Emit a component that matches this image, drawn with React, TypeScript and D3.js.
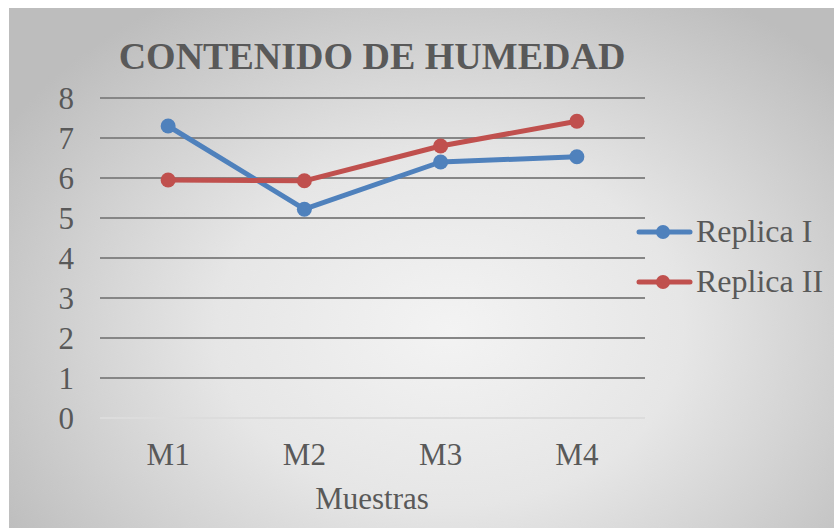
import { useEffect, useRef } from 'react';
import * as d3 from 'd3';

const WIDTH = 834;
const HEIGHT = 529;

const categories = ['M1', 'M2', 'M3', 'M4'];
const replicaI = [7.3, 5.22, 6.4, 6.53];
const replicaII = [5.95, 5.93, 6.8, 7.42];
const seriesNames = ['Replica I', 'Replica II'];
const seriesColors = ['#4F81BD', '#C0504D'];
const yTicks = [0, 1, 2, 3, 4, 5, 6, 7, 8];

const TEXT_COLOR = '#595959';
const FONT = "'Liberation Serif', 'Times New Roman', Times, 'DejaVu Serif', serif";
const LABEL_SIZE = '31px';

function drawChart(svgEl: SVGSVGElement) {
  const svg = d3.select(svgEl);
  svg.selectAll('*').remove();

  const defs = svg.append('defs');
  const grad = defs
    .append('radialGradient')
    .attr('id', 'bg-grad')
    .attr('gradientUnits', 'userSpaceOnUse')
    .attr('cx', 450)
    .attr('cy', 330)
    .attr('r', 520)
    .attr('gradientTransform', 'translate(450,330) scale(1,0.75) translate(-450,-330)');
  grad.append('stop').attr('offset', '0%').attr('stop-color', '#f3f3f3');
  grad.append('stop').attr('offset', '45%').attr('stop-color', '#e6e6e6');
  grad.append('stop').attr('offset', '100%').attr('stop-color', '#bdbdbd');

  svg
    .append('rect')
    .attr('x', 9)
    .attr('y', 8)
    .attr('width', WIDTH - 9)
    .attr('height', HEIGHT - 9)
    .attr('fill', 'url(#bg-grad)');

  const plot = { left: 100, right: 645, top: 98, bottom: 418 };

  const x = d3
    .scaleBand<string>()
    .domain(categories)
    .range([plot.left, plot.right]);
  const y = d3.scaleLinear().domain([0, 8]).range([plot.bottom, plot.top]);

  const txt = (sel: d3.Selection<any, any, any, any>) =>
    sel.style('font-family', FONT).attr('fill', TEXT_COLOR);

  // gridlines
  svg
    .append('g')
    .selectAll('line')
    .data(yTicks)
    .join('line')
    .attr('x1', plot.left)
    .attr('x2', plot.right)
    .attr('y1', (d) => y(d))
    .attr('y2', (d) => y(d))
    .attr('stroke', (d) => (d === 0 ? '#dcdcdc' : '#868686'))
    .attr('stroke-width', 2);

  // y tick labels
  svg
    .append('g')
    .selectAll('text')
    .data(yTicks)
    .join('text')
    .attr('x', 74)
    .attr('y', (d) => y(d) + 11)
    .attr('text-anchor', 'end')
    .style('font-size', LABEL_SIZE)
    .call(txt)
    .text((d) => d);

  // x tick labels
  svg
    .append('g')
    .selectAll('text')
    .data(categories)
    .join('text')
    .attr('x', (d) => (x(d) ?? 0) + x.bandwidth() / 2)
    .attr('y', 465)
    .attr('text-anchor', 'middle')
    .style('font-size', LABEL_SIZE)
    .call(txt)
    .text((d) => d);

  svg
    .append('text')
    .attr('x', 372)
    .attr('y', 509)
    .attr('text-anchor', 'middle')
    .style('font-size', LABEL_SIZE)
    .call(txt)
    .text('Muestras');

  svg
    .append('text')
    .attr('x', 372)
    .attr('y', 69)
    .attr('text-anchor', 'middle')
    .style('font-weight', 'bold')
    .style('font-size', '38px')
    .call(txt)
    .text('CONTENIDO DE HUMEDAD');

  const series = [replicaI, replicaII];
  const line = d3
    .line<number>()
    .x((_, i) => (x(categories[i]) ?? 0) + x.bandwidth() / 2)
    .y((d) => y(d));

  series.forEach((vals, si) => {
    const g = svg.append('g');
    g.append('path')
      .attr('d', line(vals))
      .attr('fill', 'none')
      .attr('stroke', seriesColors[si])
      .attr('stroke-width', 5)
      .attr('stroke-linejoin', 'round')
      .attr('stroke-linecap', 'round');
    g.selectAll('circle')
      .data(vals)
      .join('circle')
      .attr('cx', (_, i) => (x(categories[i]) ?? 0) + x.bandwidth() / 2)
      .attr('cy', (d) => y(d))
      .attr('r', 7.5)
      .attr('fill', seriesColors[si]);
  });

  // legend
  const legend = svg.append('g');
  seriesNames.forEach((name, i) => {
    const ly = 232 + i * 50;
    legend
      .append('line')
      .attr('x1', 639)
      .attr('x2', 690)
      .attr('y1', ly)
      .attr('y2', ly)
      .attr('stroke', seriesColors[i])
      .attr('stroke-width', 5)
      .attr('stroke-linecap', 'round');
    legend
      .append('circle')
      .attr('cx', 663)
      .attr('cy', ly)
      .attr('r', 7)
      .attr('fill', seriesColors[i]);
    legend
      .append('text')
      .attr('x', 696)
      .attr('y', ly + 10)
      .style('font-size', '32px')
      .call(txt)
      .text(name);
  });
}

export default function App() {
  const svgRef = useRef<SVGSVGElement>(null);

  useEffect(() => {
    if (!svgRef.current) return;
    drawChart(svgRef.current);
  }, []);

  return (
    <svg
      ref={svgRef}
      width={WIDTH}
      height={HEIGHT}
      style={{ position: 'absolute', left: 0, top: 0, display: 'block', background: '#fff' }}
    />
  );
}
